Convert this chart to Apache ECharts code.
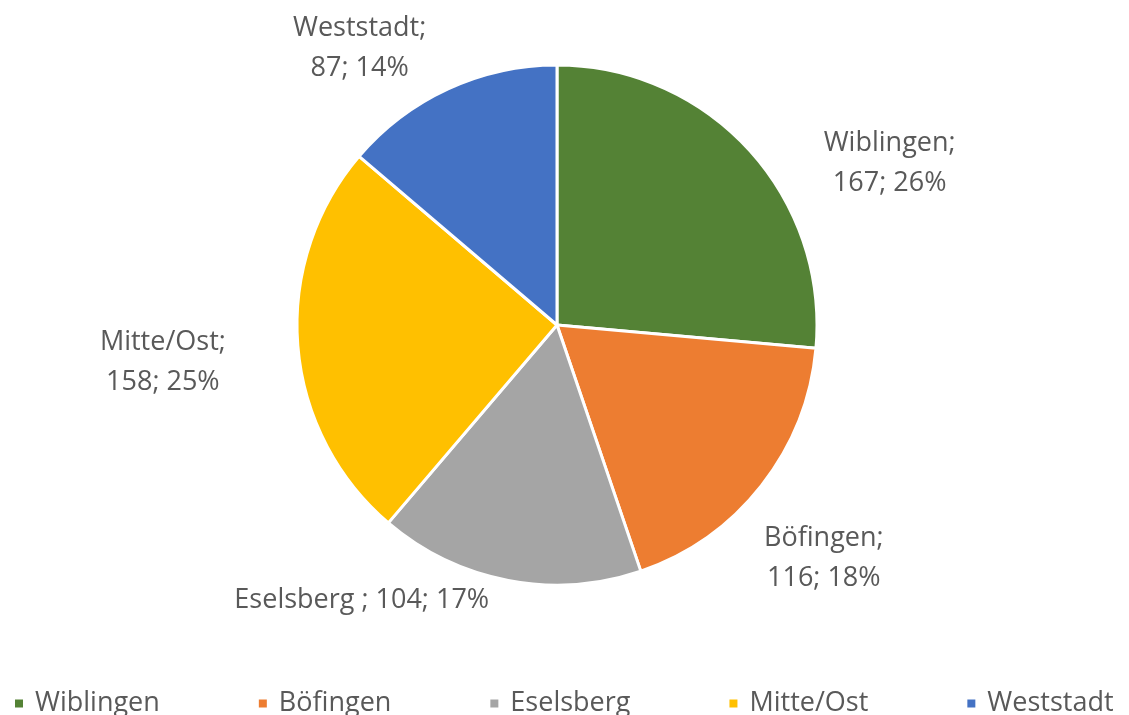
<!DOCTYPE html>
<html>
<head>
<meta charset="utf-8">
<script src="https://cdn.jsdelivr.net/npm/echarts@6/dist/echarts.min.js"></script>
<style>
  html, body { margin: 0; padding: 0; background: #fff; }
  #chart { width: 1129px; height: 715px; }
</style>
</head>
<body>
<div id="chart"></div>
<script>
// chart data
const districts = ["Wiblingen", "Böfingen", "Eselsberg", "Mitte/Ost", "Weststadt"];
const counts = [167, 116, 104, 158, 87];
const percents = ["26%", "18%", "17%", "25%", "14%"];
const sliceColors = ["#548235", "#ED7D31", "#A5A5A5", "#FFC000", "#4472C4"];

// Excel's "best fit" puts labels a bit off the mid-angle; nudge ours to match
const labelNudge = {
  Wiblingen: [48, 25],
  "Böfingen": [-25, 63],
  Eselsberg: [-1, 4],
  "Mitte/Ost": [-41, 15],
  Weststadt: [0, -26],
};

const myChart = echarts.init(document.getElementById("chart"));

const option = {
  animation: false,
  color: sliceColors,
  legend: {
    data: districts,
    bottom: -7,
    left: 8,
    itemWidth: 10,
    itemHeight: 10,
    itemGap: 97,
    icon: "rect",
    textStyle: {
      fontFamily: "Open Sans",
      fontSize: 27,
      color: "#595959",
      padding: [0, 0, 0, 6],
    },
  },
  series: [
    {
      type: "pie",
      center: [557, 325],
      radius: [0, 260],
      startAngle: 90,
      clockwise: true,
      itemStyle: {
        borderColor: "#fff",
        borderWidth: 3,
      },
      label: {
        show: true,
        position: "outside",
        fontFamily: "Open Sans",
        fontSize: 27,
        lineHeight: 40,
        color: "#595959",
        formatter: (p) => {
          const i = p.dataIndex;
          // Eselsberg sits on one line in the original
          if (i === 2) return districts[i] + " ; " + counts[i] + "; " + percents[i];
          return districts[i] + ";\n" + counts[i] + "; " + percents[i];
        },
      },
      labelLine: { show: false, length: 16, length2: 10 },
      // center each label block, then nudge it
      labelLayout: (p) => {
        const r = p.labelRect;
        const n = labelNudge[districts[p.dataIndex]] || [0, 0];
        return {
          x: r.x + r.width / 2 + n[0],
          y: r.y + r.height / 2 + n[1],
          align: "center",
          verticalAlign: "middle",
        };
      },
      data: districts.map((name, i) => ({ name: name, value: counts[i] })),
    },
  ],
};

myChart.setOption(option);
</script>
</body>
</html>
